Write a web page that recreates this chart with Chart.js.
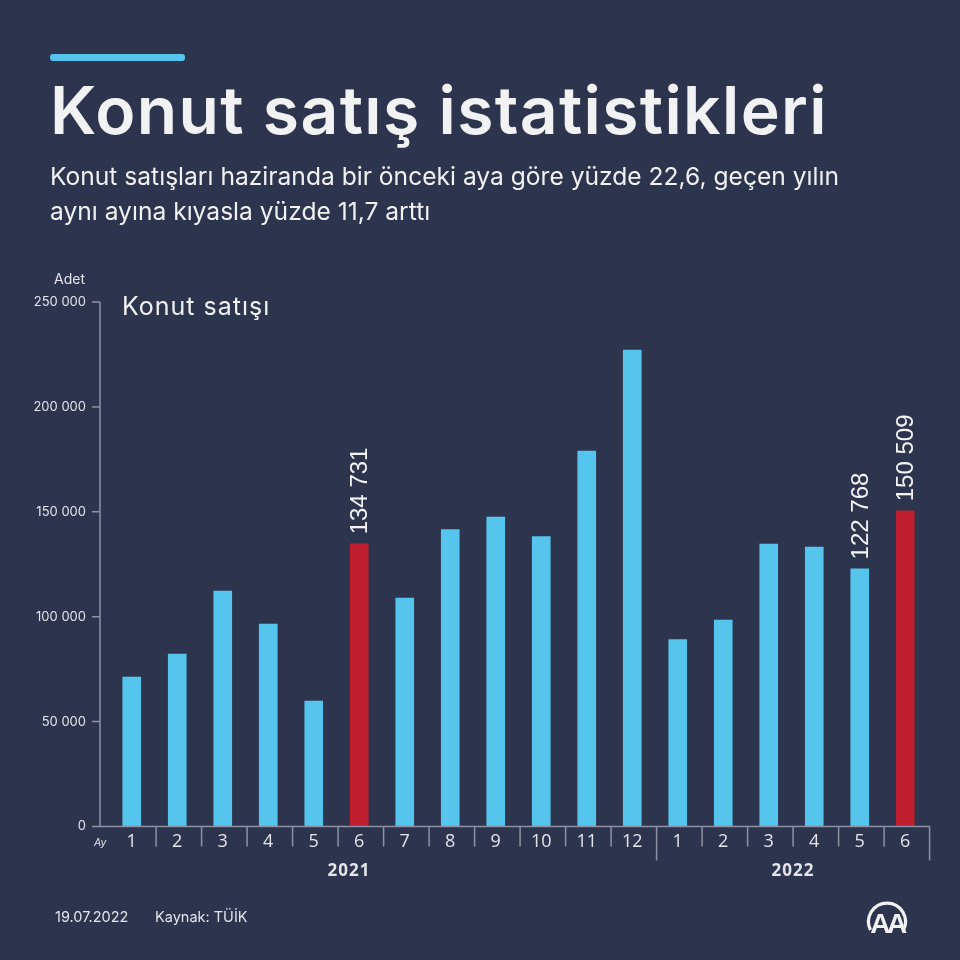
<!DOCTYPE html>
<html lang="tr">
<head>
<meta charset="utf-8">
<title>Konut satış istatistikleri</title>
<script src="https://cdn.jsdelivr.net/npm/chart.js@4"></script>
<style>
  html, body { margin: 0; padding: 0; background: #2c344e; }
  #sayfa { position: relative; width: 960px; height: 960px; overflow: hidden; color: #f1f2f4; font-family: Inter, sans-serif; }
  #sayfa canvas { position: absolute; left: 0; top: 0; }
  .metin { position: absolute; white-space: nowrap; }
  #cizgi { position: absolute; left: 50px; top: 54px; width: 135px; height: 7px; border-radius: 3px; background: #55c5ee; }
  #baslik { left: 50px; top: 72px; font-size: 66px; line-height: 76px; font-weight: 600; letter-spacing: 1.35px; }
  #altbaslik { left: 50px; top: 159px; font-size: 24.6px; line-height: 35px; }
  #seri { left: 122px; top: 291px; font-size: 25px; line-height: 30px; letter-spacing: 1px; }
  #adet { left: 54px; top: 270px; font-size: 14px; line-height: 18px; color: #e4e5ea; }
  #tarih { left: 55px; top: 907px; font-size: 14.5px; line-height: 20px; color: #e4e5ea; }
  #kaynak { left: 155px; top: 907px; font-size: 14.5px; line-height: 20px; color: #e4e5ea; }
  #logo { position: absolute; left: 864px; top: 898px; }
</style>
</head>
<body>
<div id="sayfa">
  <canvas id="grafik" width="960" height="960"></canvas>
  <div id="cizgi"></div>
  <div class="metin" id="baslik">Konut satış istatistikleri</div>
  <div class="metin" id="altbaslik">Konut satışları haziranda bir önceki aya göre yüzde 22,6, geçen yılın<br>aynı ayına kıyasla yüzde 11,7 arttı</div>
  <div class="metin" id="seri">Konut satışı</div>
  <div class="metin" id="adet">Adet</div>
  <div class="metin" id="tarih">19.07.2022</div>
  <div class="metin" id="kaynak">Kaynak: TÜİK</div>
  <svg id="logo" width="46" height="38" viewBox="0 0 46 38">
    <path d="M6.5 32 A18.5 18.5 0 1 1 39.5 32" fill="none" stroke="#f1f2f4" stroke-width="3.2"/>
    <text x="23" y="35" text-anchor="middle" font-family="Liberation Sans" font-weight="700" font-size="28" letter-spacing="-3.5" fill="#f1f2f4">AA</text>
  </svg>
</div>

<script>
// Veriler
const aylar = ['1', '2', '3', '4', '5', '6', '7', '8', '9', '10', '11', '12', '1', '2', '3', '4', '5', '6'];
const satislar = [71200, 82200, 112200, 96500, 59800, 134731, 108900, 141500, 147500, 138200, 179000, 227100, 89100, 98400, 134600, 133200, 122768, 150509];
const vurguluAylar = [5, 17];
const etiketliAylar = [5, 16, 17];
const yillar = ['2021', '2022'];
const yTikleri = [0, 50000, 100000, 150000, 200000, 250000];

const RENK_MAVI = '#55c5ee';
const RENK_KIRMIZI = '#be1e2d';
const RENK_EKSEN = '#8d91a5';
const RENK_YAZI = '#e4e5ea';

const binlik = (deger) => String(deger).replace(/\B(?=(\d{3})+$)/g, ' ');

// Eksen çizgileri, yıl etiketleri ve değer etiketleri
const eksenEklentisi = {
    id: 'eksenEklentisi',
    afterDatasetsDraw(chart) {
        const { ctx, scales: { x, y } } = chart;
        const solX = 100;
        const sagX = 930;
        const sifirY = y.getPixelForValue(0);
        const adim = x.getPixelForValue(1) - x.getPixelForValue(0);
        const sinir = (i) => x.getPixelForValue(i) + adim / 2 + 1.6;

        ctx.save();
        ctx.strokeStyle = RENK_EKSEN;
        ctx.lineWidth = 1.5;
        ctx.beginPath();
        ctx.moveTo(solX, y.getPixelForValue(250000));
        ctx.lineTo(solX, sifirY);
        ctx.moveTo(solX, sifirY);
        ctx.lineTo(sagX, sifirY);
        yTikleri.forEach((t) => {
            ctx.moveTo(solX - 8, y.getPixelForValue(t));
            ctx.lineTo(solX, y.getPixelForValue(t));
        });
        aylar.forEach((_, i) => {
            const yilSonu = i === 11 || i === 17;
            ctx.moveTo(sinir(i), sifirY);
            ctx.lineTo(sinir(i), sifirY + (yilSonu ? 34 : 20));
        });
        ctx.stroke();

        ctx.fillStyle = RENK_YAZI;
        ctx.font = 'italic 10.5px Inter';
        ctx.textAlign = 'left';
        ctx.textBaseline = 'middle';
        ctx.fillText('Ay', 94, sifirY + 16);

        // 2021 etiketi referansta olduğu gibi grubun ortasında değil
        ctx.font = '700 17px "Open Sans"';
        ctx.letterSpacing = '1px';
        ctx.textAlign = 'center';
        ctx.fillText(yillar[0], 349, sifirY + 45);
        ctx.fillText(yillar[1], 793, sifirY + 45);
        ctx.letterSpacing = '0px';

        const cubuklar = chart.getDatasetMeta(0).data;
        ctx.fillStyle = '#f4f5f6';
        ctx.font = '24px "Liberation Sans"';
        ctx.textAlign = 'left';
        etiketliAylar.forEach((i) => {
            ctx.save();
            ctx.translate(cubuklar[i].x + 1.5, cubuklar[i].y - 9.5);
            ctx.rotate(-Math.PI / 2);
            ctx.fillText(binlik(satislar[i]), 0, 0);
            ctx.restore();
        });
        ctx.restore();
    }
};

new Chart(document.getElementById('grafik'), {
    type: 'bar',
    data: {
        labels: aylar,
        datasets: [{
            data: satislar,
            backgroundColor: aylar.map((_, i) => (vurguluAylar.includes(i) ? RENK_KIRMIZI : RENK_MAVI)),
            barThickness: 18
        }]
    },
    options: {
        responsive: false,
        animation: false,
        layout: { padding: { top: 302, bottom: 133.5, left: 0, right: 32 } },
        plugins: { legend: { display: false }, tooltip: { enabled: false } },
        scales: {
            x: {
                grid: { display: false, drawTicks: false },
                border: { display: false },
                afterFit: (eksen) => { eksen.height = 0; },
                ticks: { display: false }
            },
            y: {
                min: 0,
                max: 250000,
                grid: { display: false, drawTicks: false },
                border: { display: false },
                afterBuildTicks: (eksen) => { eksen.ticks = yTikleri.map((value) => ({ value })); },
                afterFit: (eksen) => { eksen.width = 109; },
                ticks: {
                    padding: 23,
                    color: RENK_YAZI,
                    font: { family: 'Inter', size: 13 },
                    callback: (deger) => binlik(deger)
                }
            }
        }
    },
    plugins: [eksenEklentisi, {
        // Ay etiketleri
        id: 'ayEtiketleri',
        afterDraw(chart) {
            const { ctx, scales: { x, y } } = chart;
            ctx.save();
            ctx.fillStyle = RENK_YAZI;
            ctx.font = '18px "Open Sans"';
            ctx.textAlign = 'center';
            ctx.textBaseline = 'middle';
            aylar.forEach((ay, i) => ctx.fillText(ay, x.getPixelForValue(i), y.getPixelForValue(0) + 15));
            ctx.restore();
        }
    }]
});
</script>
</body>
</html>
